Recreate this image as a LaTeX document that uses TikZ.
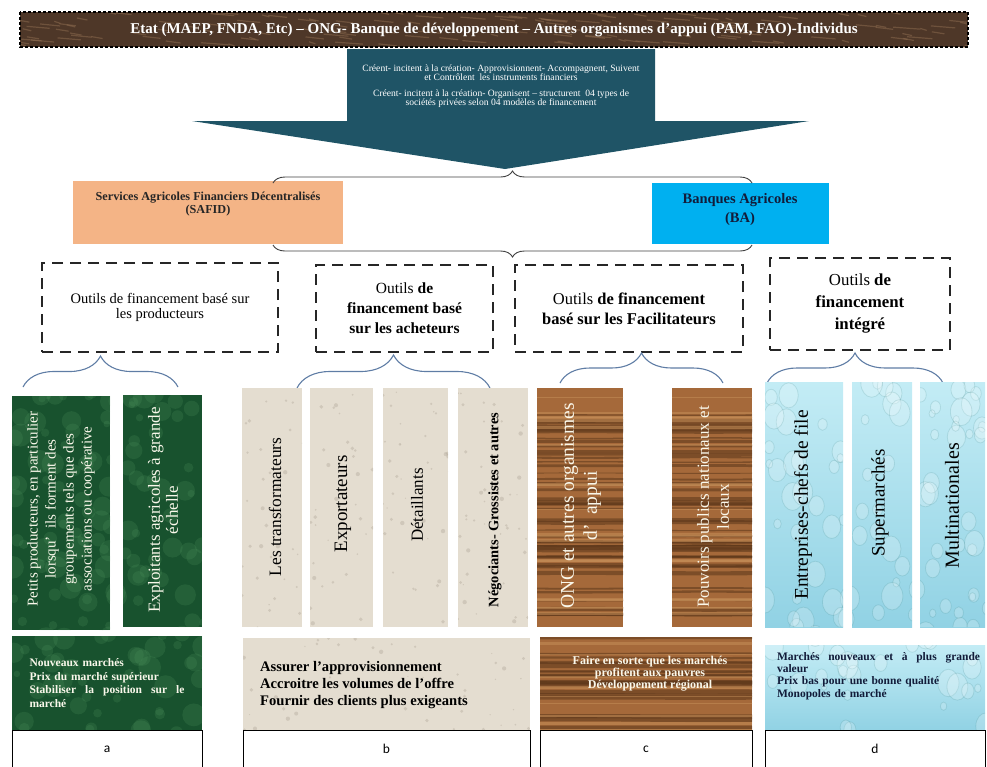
\documentclass[tikz,border=0pt]{standalone}
\usepackage{fontspec}
\setmainfont{Liberation Serif}
\setsansfont{Carlito}
\usetikzlibrary{decorations.pathreplacing}
\definecolor{tealA}{RGB}{31,84,102}
\definecolor{bannerC}{RGB}{78,55,40}
\definecolor{bannerL}{RGB}{150,115,85}
\definecolor{safidC}{RGB}{244,180,134}
\definecolor{baC}{RGB}{0,176,240}
\definecolor{greenC}{RGB}{24,82,46}
\definecolor{greenL}{RGB}{80,150,95}
\definecolor{beigeC}{RGB}{228,221,208}
\definecolor{beigeD}{RGB}{170,160,145}
\definecolor{woodC}{RGB}{165,105,58}
\definecolor{woodD}{RGB}{92,55,26}
\definecolor{woodL}{RGB}{200,145,90}
\definecolor{waterC}{RGB}{145,210,228}
\definecolor{waterL}{RGB}{195,236,245}
\definecolor{braceC}{RGB}{95,125,165}
\definecolor{navyT}{RGB}{18,28,58}
\definecolor{creamT}{RGB}{250,248,235}
\newcommand{\fsz}[2]{\fontsize{#1}{#2}\selectfont}
\begin{document}
\begin{tikzpicture}[x=1pt,y=-1pt,
  fillbox/.style={rectangle, draw=none, inner sep=0pt, outer sep=0pt},
  dashbox/.style={rectangle, draw=black!85, line width=2.4pt, dash pattern=on 11pt off 7pt, inner sep=0pt, fill=white, align=center},
  bigbrace/.style={decorate, decoration={brace, amplitude=12pt}, draw=black!75, line width=0.9pt},
  smallbrace/.style={decorate, decoration={brace, amplitude=#1}, draw=braceC, line width=1.1pt},
  coltext/.style={rotate=90, align=center, inner sep=0pt},
  letterbox/.style={rectangle, draw=black, line width=0.9pt, fill=white, inner sep=0pt, font=\sffamily\fsz{13.5}{15}},
  water/.style={fillbox, top color=waterL, bottom color=waterC},
]
\useasboundingbox (0,0) rectangle (987,766);
\pgfmathsetseed{11}

% banner
\node[fillbox, fill=bannerC, minimum width=948pt, minimum height=35pt] (ban) at (494,29.5) {};
\begin{scope}
\clip (ban.north west) rectangle (ban.south east);
\foreach \k in {1,...,140}{
  \pgfmathsetmacro\xx{12+rnd*963}\pgfmathsetmacro\yy{12+rnd*36}\pgfmathsetmacro\ll{6+rnd*22}
  \draw[bannerL, opacity=0.45, line width=1.2pt] (\xx,\yy) -- ++(\ll,2);}
\end{scope}
\draw[black, dash pattern=on 3pt off 2pt, line width=1.4pt] (ban.north west) rectangle (ban.south east);
\node[text=white, font=\bfseries\fsz{15}{17}] (bantxt) at (ban.center) {Etat (MAEP, FNDA, Etc) – ONG- Banque de développement – Autres organismes d’appui (PAM, FAO)-Individus};

% arrow
\fill[tealA] (347,49) -- (655,49) -- (655,121) -- (809,121) -- (505,169) -- (192,121) -- (347,121) -- cycle;
\node[text=white, align=center, font=\fsz{9.6}{9.5}] (arrtxt) at (501,86) {Créent- incitent à la création- Approvisionnent- Accompagnent, Suivent\\ et Contrôlent\ \ les instruments financiers\\[6pt] Créent- incitent à la création- Organisent – structurent\ \ 04 types de\\ sociétés privées selon 04 modèles de financement};

% SAFID / BA
\node[fillbox, fill=safidC, minimum width=270pt, minimum height=63pt] (safid) at (208,212.5) {};
\node[font=\bfseries\fsz{12.2}{13.5}, align=center, text=black!85] (safidtxt) at (208,204) {Services Agricoles Financiers Décentralisés\\(SAFID)};
\node[fillbox, fill=baC, minimum width=177pt, minimum height=61pt] (ba) at (740.5,213.5) {};
\node[font=\bfseries\fsz{14.5}{19}, align=center, text=navyT] (batxt) at (740,210) {Banques Agricoles\\(BA)};

\coordinate (tbl) at (273,183); \coordinate (tbr) at (752,183);
\coordinate (bbl) at (273,245); \coordinate (bbr) at (752,245);
\draw[bigbrace] (tbl) -- (tbr);
\draw[bigbrace, decoration={mirror}] (bbl) -- (bbr);

% dashed boxes
\node[dashbox, minimum width=236pt, minimum height=89pt, font=\fsz{14.5}{15.5}] (d1) at (160,307.5) {Outils de financement basé sur\\les producteurs};
\node[dashbox, minimum width=177pt, minimum height=87pt, font=\fsz{15.5}{20}] (d2) at (404.5,308.5) {Outils \textbf{de}\\\textbf{financement basé}\\\textbf{sur les acheteurs}};
\node[dashbox, minimum width=228pt, minimum height=87pt, font=\fsz{16.5}{20}] (d3) at (629,308.5) {Outils \textbf{de financement}\\\textbf{basé sur les Facilitateurs}};
\node[dashbox, minimum width=180pt, minimum height=92pt, font=\fsz{16.8}{22}] (d4) at (860,304) {Outils \textbf{de}\\\textbf{financement}\\\textbf{intégré}};

% small braces
\coordinate (s1l) at (23,387); \coordinate (s1r) at (178,387);
\coordinate (s2l) at (297,388); \coordinate (s2r) at (490,388);
\coordinate (s3l) at (560,383); \coordinate (s3r) at (723,383);
\coordinate (s4l) at (767,383); \coordinate (s4r) at (943,383);
\draw[smallbrace=31pt] (s1l) -- (s1r);
\draw[smallbrace=33pt] (s2l) -- (s2r);
\draw[smallbrace=30pt] (s3l) -- (s3r);
\draw[smallbrace=30pt] (s4l) -- (s4r);

% columns
\node[fillbox, fill=greenC, minimum width=98pt, minimum height=234pt] (g1) at (61,513) {};
\node[fillbox, fill=greenC, minimum width=79pt, minimum height=232pt] (g2) at (162.5,511) {};
\node[fillbox, fill=beigeC, minimum width=60pt, minimum height=239pt] (be1) at (272,507.5) {};
\node[fillbox, fill=beigeC, minimum width=63pt, minimum height=239pt] (be2) at (341.5,507.5) {};
\node[fillbox, fill=beigeC, minimum width=65pt, minimum height=239pt] (be3) at (415.5,507.5) {};
\node[fillbox, fill=beigeC, minimum width=70pt, minimum height=239pt] (be4) at (493,507.5) {};
\node[fillbox, fill=woodC, minimum width=86pt, minimum height=239pt] (br1) at (580,507.5) {};
\node[fillbox, fill=woodC, minimum width=80pt, minimum height=239pt] (br2) at (712,507.5) {};
\node[water, minimum width=78pt, minimum height=245pt] (bl1) at (804,504.5) {};
\node[water, minimum width=60pt, minimum height=245pt] (bl2) at (882,504.5) {};
\node[water, minimum width=65pt, minimum height=245pt] (bl3) at (952.5,504.5) {};

% bottom boxes
\node[fillbox, fill=greenC, minimum width=190pt, minimum height=94pt] (gb) at (107,683) {};
\node[fillbox, fill=beigeC, minimum width=287pt, minimum height=92pt] (beb) at (386.5,684) {};
\node[fillbox, fill=woodC, minimum width=212pt, minimum height=93pt] (brb) at (646,683.5) {};
\node[water, minimum width=220pt, minimum height=85pt] (blb) at (875,687.5) {};

% green marble
\begin{scope}
\clip (g1.north west) rectangle (g1.south east) (g2.north west) rectangle (g2.south east) (gb.north west) rectangle (gb.south east);
\foreach \k in {1,...,160}{
  \pgfmathsetmacro\xx{10+rnd*195}\pgfmathsetmacro\yy{393+rnd*340}\pgfmathsetmacro\rr{3+rnd*9}
  \fill[greenL, opacity=0.22] (\xx,\yy) circle (\rr pt);}
\end{scope}
% beige paper specks
\begin{scope}
\clip (be1.north west) rectangle (be1.south east) (be2.north west) rectangle (be2.south east) (be3.north west) rectangle (be3.south east) (be4.north west) rectangle (be4.south east) (beb.north west) rectangle (beb.south east);
\foreach \k in {1,...,220}{
  \pgfmathsetmacro\xx{240+rnd*292}\pgfmathsetmacro\yy{386+rnd*346}\pgfmathsetmacro\rr{0.6+rnd*1.6}
  \fill[beigeD, opacity=0.35] (\xx,\yy) circle (\rr pt);}
\end{scope}
% wood grain
\begin{scope}
\clip (br1.north west) rectangle (br1.south east) (br2.north west) rectangle (br2.south east) (brb.north west) rectangle (brb.south east);
\foreach \k in {1,...,70}{
  \pgfmathsetmacro\yy{386+rnd*346}\pgfmathsetmacro\lw{0.8+rnd*3.5}\pgfmathsetmacro\dd{rnd*3-1.5}
  \draw[woodD, opacity=0.55, line width=\lw pt] (530,\yy) .. controls (600,\yy+\dd) and (680,\yy-\dd) .. (760,\yy);}
\foreach \k in {1,...,30}{
  \pgfmathsetmacro\yy{386+rnd*346}\pgfmathsetmacro\lw{0.8+rnd*2.5}
  \draw[woodL, opacity=0.5, line width=\lw pt] (530,\yy) -- (760,\yy);}
\end{scope}
% water drops
\begin{scope}
\clip (bl1.north west) rectangle (bl1.south east) (bl2.north west) rectangle (bl2.south east) (bl3.north west) rectangle (bl3.south east) (blb.north west) rectangle (blb.south east);
\foreach \k in {1,...,110}{
  \pgfmathsetmacro\xx{763+rnd*225}\pgfmathsetmacro\yy{380+rnd*352}\pgfmathsetmacro\rr{3+rnd*8}
  \fill[white, opacity=0.2] (\xx,\yy) ellipse ({\rr pt} and {1.3*\rr pt});
  \draw[teal!70!black, opacity=0.12, line width=0.8pt] (\xx,\yy) ellipse ({\rr pt} and {1.3*\rr pt});}
\end{scope}

% column texts
\node[coltext, text=creamT, font=\fsz{15}{18}] (g1t) at (61,509) {Petits producteurs, en particulier\\lorsqu’\ \ ils forment des\\groupements tels que des\\associations ou coopérative};
\node[coltext, text=creamT, font=\fsz{17}{18}] (g2t) at (163,510) {Exploitants agricoles à grande\\échelle};
\node[coltext, font=\fsz{17.4}{18}] (be1t) at (275,507) {Les transformateurs};
\node[coltext, font=\fsz{19}{18}] (be2t) at (343,504) {Exportateurs};
\node[coltext, font=\fsz{17}{18}] (be3t) at (417,505) {Détaillants};
\node[coltext, font=\bfseries\fsz{14.4}{18}] (be4t) at (495,510) {Négociants- Grossistes et autres};
\node[coltext, text=creamT, font=\fsz{19.5}{23}] (br1t) at (581,506) {ONG et autres organismes\\d’\ \ appui};
\node[coltext, text=creamT, font=\fsz{17}{20}] (br2t) at (713,507) {Pouvoirs publics nationaux et\\locaux};
\node[coltext, font=\fsz{19.5}{18}] (bl1t) at (803,505) {Entreprises-chefs de file};
\node[coltext, font=\fsz{19}{18}] (bl2t) at (880,503) {Supermarchés};
\node[coltext, font=\fsz{20}{18}] (bl3t) at (952,506) {Multinationales};

% bottom texts
\node[text=creamT, font=\bfseries\fsz{11.5}{13.5}, align=left, text width=157pt, inner sep=0pt] (gbt) at (108,683) {Nouveaux marchés\\Prix du marché supérieur\\\makebox[155pt][l]{Stabiliser\hfill la\hfill position\hfill sur\hfill le}\\marché};
\node[font=\bfseries\fsz{14.6}{17}, align=left, anchor=west, inner sep=0pt] (bebt) at (260,685) {Assurer l’approvisionnement\\Accroitre les volumes de l’offre\\Fournir des clients plus exigeants};
\node[text=creamT, font=\bfseries\fsz{12}{10.5}, align=center] (brbt) at (650,674) {Faire en sorte que les marchés\\profitent aux pauvres\\Développement régional};
\node[text=navyT, font=\bfseries\fsz{11.5}{12.3}, align=left, text width=206pt, inner sep=0pt] (blbt) at (880,676) {\makebox[203pt][l]{Marchés\hfill nouveaux\hfill et\hfill à\hfill plus\hfill grande}\\valeur\\Prix bas pour une bonne qualité\\Monopoles de marché};

% letter boxes
\node[letterbox, minimum width=190pt, minimum height=38pt] (la) at (107,749) {a};
\node[letterbox, minimum width=287pt, minimum height=38pt] (lb) at (386.5,749) {b};
\node[letterbox, minimum width=212pt, minimum height=38pt] (lc) at (646,749) {c};
\node[letterbox, minimum width=220pt, minimum height=38pt] (ld) at (875,749) {d};
\end{tikzpicture}
\end{document}
